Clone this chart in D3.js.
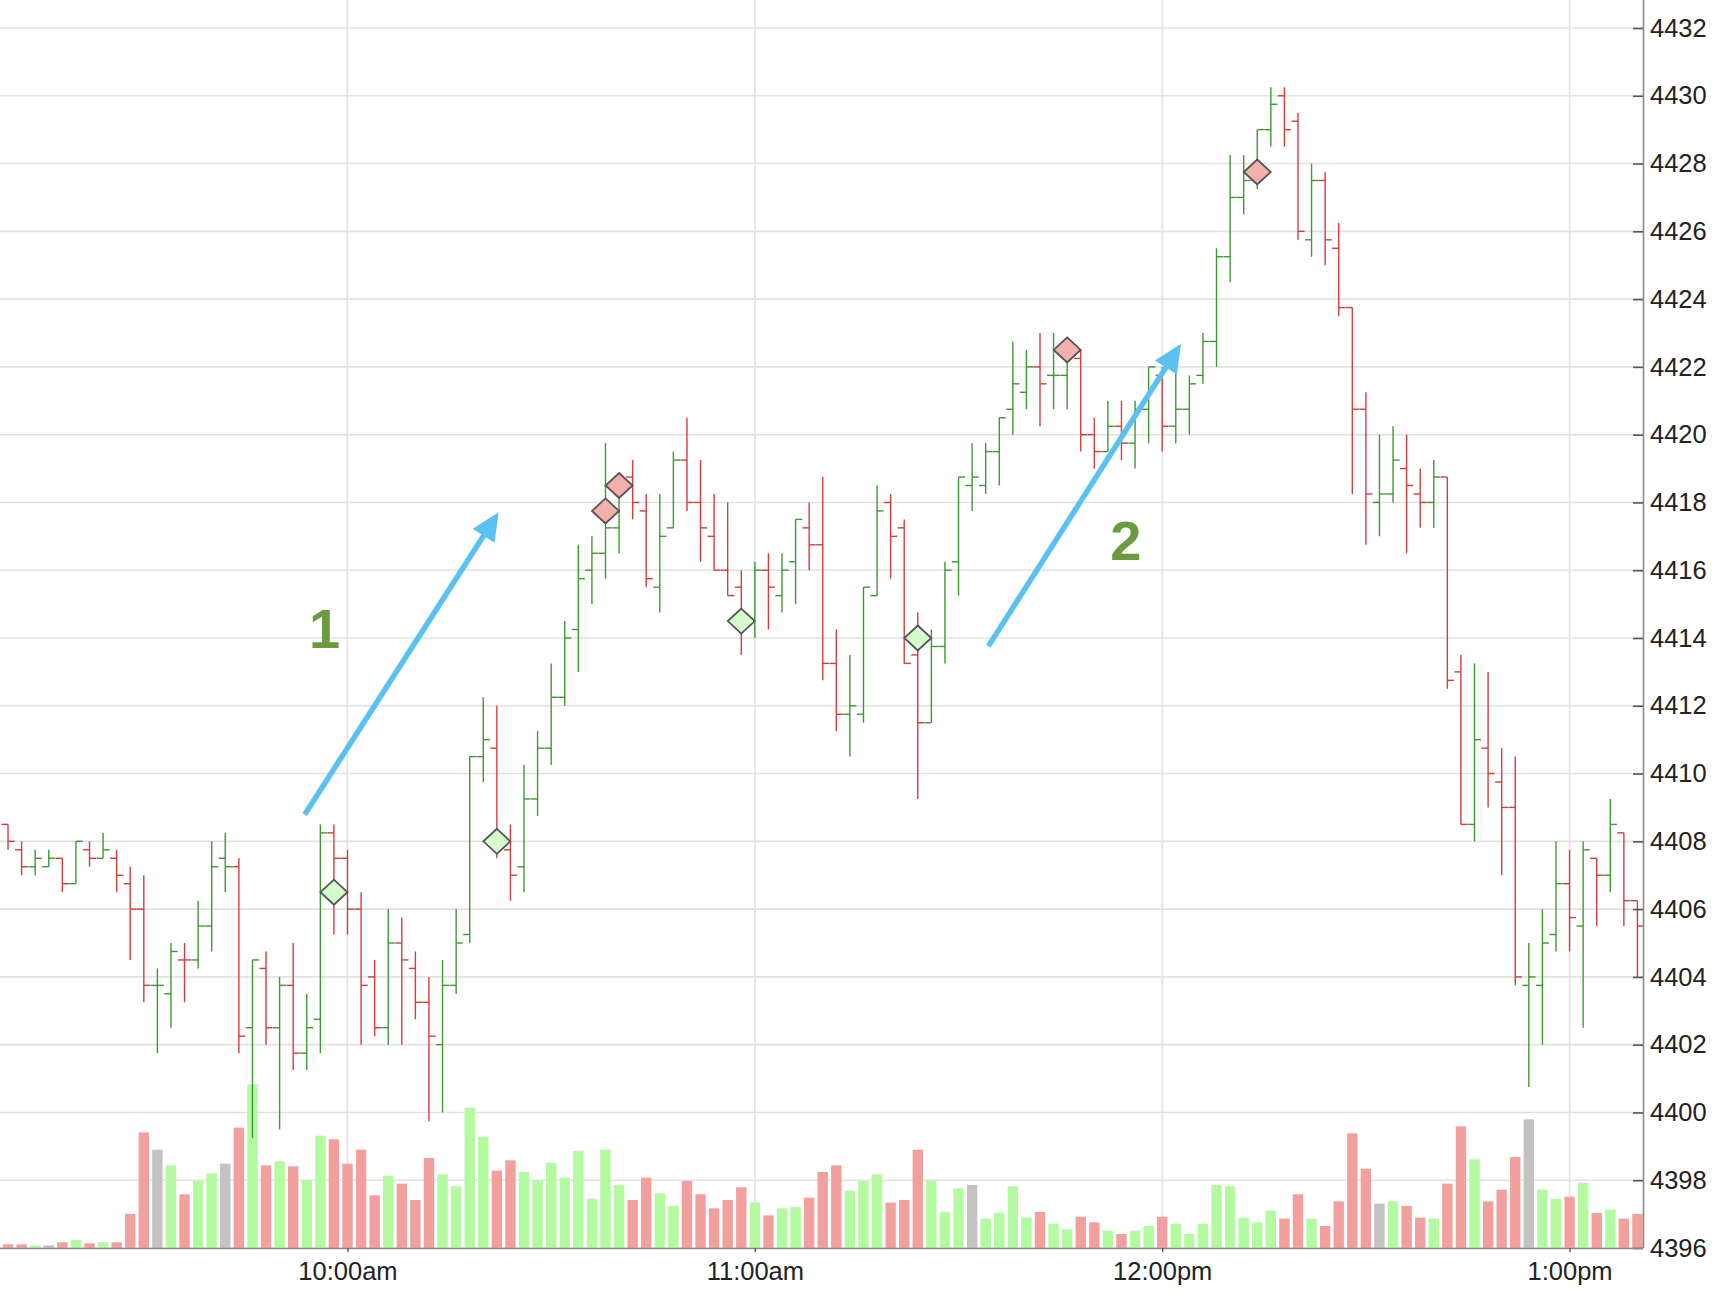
<!DOCTYPE html>
<html>
<head>
<meta charset="utf-8">
<script src="https://cdn.jsdelivr.net/npm/d3@7"></script>
<style>
  body { margin: 0; background: #fff; }
  svg { display: block; }
  text { font-family: "Liberation Sans", Arial, Helvetica, sans-serif; }
</style>
</head>
<body>
<svg id="chart" width="1736" height="1316"></svg>
<script>
// ---------------- DATA ----------------
const firstBar = "09:10";      // time of first 2-minute bar
const barMinutes = 2;
const priorClose = 4408.75;    // close of the bar before the first one

const opens = [4408.5,4407.75,4407.25,4407.25,4407.5,4406.75,4407.75,4407.5,4407.5,4406.75,
  4406,4403.75,4403.5,4404.5,4404.5,4405.5,4407.5,4407.25,4402.5,4404.25,
  4402.5,4403.75,4401.75,4402.75,4408.25,4407.5,4406,4404,4402.5,4405,
  4404.25,4403.25,4402,4403.75,4405.25,4410.5,4410.75,4407.75,4407.25,4409.25,
  4410.75,4412.25,4414.25,4416,4416.5,4417.25,4418.75,4417.75,4415.5,4417.25,
  4419.25,4418,4417,4416,4415.5,4414.5,4416,4415.25,4416.25,4417.25,
  4416.75,4413.25,4411.75,4411.75,4415.25,4418,4417.25,4413.5,4411.5,4413.75,
  4416.25,4418.5,4418.5,4419.5,4420.75,4421.25,4422,4421.75,4421.75,4422.25,
  4420,4419.5,4420.25,4419.75,4420.75,4421.75,4420.25,4420.75,4421.75,4422.75,
  4425.25,4427,4427.5,4429,4430,4429.25,4425.75,4427.5,4425.5,4423.75,
  4420.75,4418,4418.25,4419,4418.25,4418,4418.75,4413,4408.5,4410.75,
  4409.75,4409,4403.75,4403.75,4405.25,4406.75,4405.5,4407.5,4407,4408.25,
  4406.25];
const highs = [4408.5,4408,4407.75,4407.75,4407.5,4408,4408,4408.25,4407.75,4407.25,
  4407,4404.25,4405,4405,4406.25,4408,4408.25,4407.5,4404.5,4404.75,
  4404,4405,4403.5,4408.5,4408.5,4407.75,4406.5,4404.5,4406,4405.75,
  4404.75,4404,4404.5,4406,4410.5,4412.25,4412,4408.5,4410.25,4411.25,
  4413.25,4414.5,4416.75,4417,4419.75,4418.75,4419.25,4418.25,4418.25,4419.5,
  4420.5,4419.25,4418.25,4418,4416,4416.25,4416.5,4416.5,4417.5,4418,
  4418.75,4414.25,4413.5,4415.5,4418.5,4418.25,4417.5,4414.75,4414.25,4416.25,
  4418.75,4419.75,4419.75,4420.5,4422.75,4422.5,4423,4423,4422.75,4422.5,
  4420.5,4421,4421,4421,4422,4422,4422,4421.75,4423,4425.5,
  4428.25,4428.25,4429,4430.25,4430.25,4429.5,4428,4427.75,4426.25,4423.75,
  4421.25,4420,4420.25,4420,4419,4419.25,4418.75,4413.5,4413.25,4413,
  4410.75,4410.5,4405,4406,4408,4407.75,4408,4407.5,4409.25,4408.25,
  4406.25];
const lows = [4407.75,4407,4407,4407.25,4406.5,4406.75,4407.25,4407.5,4406.5,4404.5,
  4403.25,4401.75,4402.5,4403.25,4404.25,4404.75,4406.5,4401.75,4399.25,4402,
  4399.5,4401.25,4401.25,4401.75,4405.25,4405.25,4402,4402.25,4402,4402,
  4402.75,4399.75,4400,4403.5,4405,4409.75,4407.5,4406.25,4406.5,4408.75,
  4410.25,4412,4413,4415,4415.75,4416.5,4417.5,4415.5,4414.75,4417.25,
  4417.75,4416.25,4416,4415.25,4413.5,4414,4414.25,4414.75,4415,4416,
  4412.75,4411.25,4410.5,4411.5,4415.25,4415.75,4413.25,4409.25,4411.5,4413.25,
  4415.25,4417.75,4418.25,4418.5,4420,4420.75,4420.25,4420.75,4420.75,4419.5,
  4419,4419.5,4419.25,4419,4419.75,4419.5,4419.75,4420,4421.5,4422,
  4424.5,4426.5,4427.25,4428.5,4428.5,4425.75,4425.25,4425,4423.5,4418.25,
  4416.75,4417,4418,4416.5,4417.25,4417.25,4412.5,4408.5,4408,4409,
  4407,4403.75,4400.75,4402,4404.75,4404.75,4402.5,4405.5,4406.5,4405.5,
  4404];
const closes = [4408,4407.25,4407.5,4407.5,4406.75,4408,4407.5,4407.75,4407,4406,
  4403.75,4403.75,4404.75,4404.5,4405.5,4407.25,4407.25,4402.25,4404.5,4402.5,
  4403.75,4401.75,4402.5,4408.25,4407.5,4406,4403.75,4402.5,4405,4404.5,
  4403.25,4402.25,4403.75,4405,4410.5,4411,4408,4407,4409.25,4410.75,
  4412.25,4414,4415.75,4416.5,4417.25,4418.5,4418,4415.75,4417,4419.25,
  4418,4417.25,4416,4415.25,4414.5,4416,4415.5,4416,4417.5,4416.75,
  4413.25,4411.75,4412,4415.5,4417.75,4417,4413.25,4411.5,4413.75,4416,
  4418.75,4418.75,4419.5,4420.5,4421.5,4422,4421.5,4421.75,4422.5,4420,
  4419.5,4420.25,4419.75,4420.75,4422,4420.25,4420.75,4421.5,4422.75,4425.25,
  4427,4427.5,4429,4429.75,4429,4426,4427.5,4425.75,4423.75,4420.75,
  4418.25,4418.25,4419.25,4418.5,4418,4418.75,4412.75,4408.5,4411,4410,
  4409,4404,4404,4405,4406.75,4405.75,4407.75,4407,4408.5,4406.25,
  4405.5];
const volumes = [11,11,8,8,17,24,14,17,17,102,
  347,295,248,161,201,224,253,361,491,248,
  260,245,203,337,326,253,295,158,217,193,
  144,270,221,185,421,333,232,263,228,203,
  256,211,291,148,295,189,144,211,164,127,
  201,161,119,144,182,136,98,119,123,151,
  228,248,172,201,221,136,144,295,201,108,
  179,189,88,105,185,91,108,73,56,94,
  77,52,42,52,66,94,73,42,73,189,
  185,91,77,112,88,161,88,66,140,344,
  238,133,140,126,91,88,193,365,266,140,
  175,273,386,175,147,154,196,105,115,88,
  102];

// signal markers (bar index, price, side)
const signalBars   = [24, 36, 44, 45, 54, 67, 78, 92];
const signalPrices = [4406.5, 4408, 4417.75, 4418.5, 4414.5, 4414, 4422.5, 4427.75];
const signalSides  = ["buy","buy","sell","sell","buy","buy","sell","sell"];

// annotations: arrows [time, price] start/end and labels
const arrowStarts = [["09:53:42", 4408.79], ["11:34:24", 4413.76]];
const arrowEnds   = [["10:22:16", 4417.71], ["12:02:46", 4422.68]];
const noteTexts   = ["1", "2"];
const notePoints  = [["09:56:38", 4413.7], ["11:54:39", 4416.3]];

// axes
const priceTicks = [4396,4398,4400,4402,4404,4406,4408,4410,4412,4414,4416,4418,4420,4422,4424,4426,4428,4430,4432];
const hourTicks  = ["10:00", "11:00", "12:00", "13:00"];
const hourLabels = ["10:00am", "11:00am", "12:00pm", "1:00pm"];
const timeDomain = ["09:08:49", "13:10:49"];
const priceDomain = [4396, 4432];

// ---------------- CHART ----------------
const parseT = d3.timeParse("%H:%M:%S");
const T = s => parseT(s.length === 5 ? s + ":00" : s);

const plotRight = 1643, plotBottom = 1248, priceTop = 28;
const svg = d3.select("#chart");

const x = d3.scaleTime().domain(timeDomain.map(T)).range([0, plotRight]);
const y = d3.scaleLinear().domain(priceDomain).range([plotBottom, priceTop]);
const v = d3.scaleLinear().domain([0, 1500]).range([plotBottom, plotBottom - 500]);

const bars = opens.map((o, i) => ({
  t: d3.timeMinute.offset(T(firstBar), i * barMinutes),
  o, h: highs[i], l: lows[i], c: closes[i], vol: volumes[i],
  prev: i === 0 ? priorClose : closes[i - 1]
}));

const GREEN = "#3d9a31", RED = "#d63c3c";
const VGREEN = "#b3faa0", VRED = "#f2a09e", VGRAY = "#c3c3c3";

// grid
const grid = svg.append("g");
grid.selectAll("line.h").data(priceTicks).join("line")
  .attr("x1", 0).attr("x2", plotRight)
  .attr("y1", d => y(d)).attr("y2", d => y(d))
  .attr("stroke", "#e2e2e2").attr("stroke-width", 1.6);
grid.selectAll("line.v").data(hourTicks).join("line")
  .attr("x1", d => x(T(d))).attr("x2", d => x(T(d)))
  .attr("y1", 0).attr("y2", plotBottom)
  .attr("stroke", "#e2e2e2").attr("stroke-width", 1.6);

// volume
svg.append("g").selectAll("rect").data(bars).join("rect")
  .attr("x", d => x(d.t) - 5.2).attr("width", 10.4)
  .attr("y", d => v(d.vol)).attr("height", d => plotBottom - v(d.vol))
  .attr("fill", d => d.c > d.prev ? VGREEN : d.c < d.prev ? VRED : VGRAY);

// OHLC bars
const ohlc = svg.append("g").attr("stroke-width", 1.4).attr("fill", "none");
const tick = 6.6;
const g = ohlc.selectAll("g").data(bars).join("g")
  .attr("stroke", d => d.c >= d.prev ? GREEN : RED);
g.append("line").attr("x1", d => x(d.t)).attr("x2", d => x(d.t))
  .attr("y1", d => y(d.h)).attr("y2", d => y(d.l));
g.append("line").attr("x1", d => x(d.t) - tick).attr("x2", d => x(d.t))
  .attr("y1", d => y(d.o)).attr("y2", d => y(d.o));
g.append("line").attr("x1", d => x(d.t)).attr("x2", d => x(d.t) + tick)
  .attr("y1", d => y(d.c)).attr("y2", d => y(d.c));

// signal diamonds
const signals = signalBars.map((b, i) => ({ t: bars[b].t, p: signalPrices[i], side: signalSides[i] }));
svg.append("g").selectAll("path").data(signals).join("path")
  .attr("d", d => {
    const cx = x(d.t), cy = y(d.p), w = 13.5, h = 12.5;
    return `M${cx},${cy - h}L${cx + w},${cy}L${cx},${cy + h}L${cx - w},${cy}Z`;
  })
  .attr("fill", d => d.side === "buy" ? "#d4fccd" : "#f4b0ae")
  .attr("stroke", "#555").attr("stroke-width", 1.8);

// arrows
const ARROW = "#5ac1f0";
const arrows = arrowStarts.map((s, i) => ({
  x1: x(T(s[0])), y1: y(s[1]), x2: x(T(arrowEnds[i][0])), y2: y(arrowEnds[i][1])
}));
const ag = svg.append("g");
arrows.forEach(a => {
  const ang = Math.atan2(a.y2 - a.y1, a.x2 - a.x1);
  const len = 28, half = 13;
  const bx = a.x2 - len * Math.cos(ang), by = a.y2 - len * Math.sin(ang);
  ag.append("line").attr("x1", a.x1).attr("y1", a.y1)
    .attr("x2", bx + 4 * Math.cos(ang)).attr("y2", by + 4 * Math.sin(ang))
    .attr("stroke", ARROW).attr("stroke-width", 5.5);
  const px = -Math.sin(ang), py = Math.cos(ang);
  ag.append("path")
    .attr("d", `M${a.x2},${a.y2}L${bx + half * px},${by + half * py}L${bx - half * px},${by - half * py}Z`)
    .attr("fill", ARROW);
});

// labels 1 / 2
svg.append("g").selectAll("text").data(noteTexts).join("text")
  .attr("x", (d, i) => x(T(notePoints[i][0])))
  .attr("y", (d, i) => y(notePoints[i][1]))
  .attr("text-anchor", "middle")
  .attr("font-size", 56).attr("font-weight", "bold")
  .attr("fill", "#6c9a3e")
  .text(d => d);

// right axis (ticks point inward)
const yAxis = svg.append("g").attr("transform", `translate(${plotRight},0)`)
  .call(d3.axisRight(y).tickValues(priceTicks).tickSizeInner(-10).tickSizeOuter(0)
    .tickPadding(7).tickFormat(d3.format("d")));
yAxis.select(".domain").attr("d", `M0.5,0V${plotBottom}`).attr("stroke", "#8a8a8a").attr("stroke-width", 1.6);
yAxis.selectAll(".tick line").attr("stroke", "#555").attr("stroke-width", 1.6);
yAxis.selectAll(".tick text").attr("font-size", 25.5).attr("fill", "#222")
  .attr("font-family", "'Liberation Sans', Arial, sans-serif");

// bottom axis
const xAxis = svg.append("g").attr("transform", `translate(0,${plotBottom})`)
  .call(d3.axisBottom(x).tickValues(hourTicks.map(T)).tickSize(4).tickPadding(10)
    .tickFormat((d, i) => hourLabels[i]));
xAxis.select(".domain").attr("d", `M0,0.5H${plotRight}`).attr("stroke", "#8a8a8a").attr("stroke-width", 1.6);
xAxis.selectAll(".tick line").attr("stroke", "#555").attr("stroke-width", 1.4);
xAxis.selectAll(".tick text").attr("font-size", 25.5).attr("fill", "#222")
  .attr("font-family", "'Liberation Sans', Arial, sans-serif");
</script>
</body>
</html>
